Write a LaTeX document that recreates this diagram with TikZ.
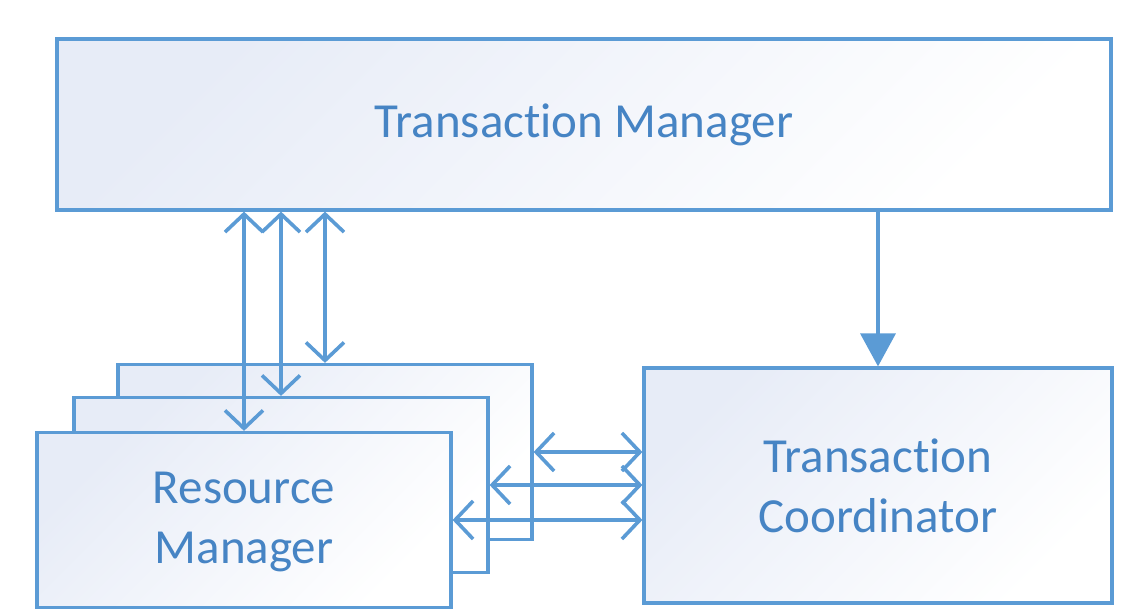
\documentclass[tikz,border=0pt]{standalone}
\usepackage{fontspec}
\setmainfont{Carlito}[Ligatures=NoCommon]
\usetikzlibrary{arrows.meta}
\definecolor{msblue}{RGB}{91,155,213}
\definecolor{mstext}{RGB}{70,132,196}
\definecolor{mspale}{RGB}{231,236,247}

\begin{document}
\begin{tikzpicture}[x=1pt,y=-1pt]
   \tikzstyle{every node}=[draw=msblue, line width=3.2pt, text=mstext, font=\fontsize{49}{60}\selectfont, align=center, inner sep=0pt, top color=mspale, bottom color=white, shading angle=45]
   \tikzstyle{rm box}=[minimum width=414pt, minimum height=175pt]
   \tikzstyle{link}=[draw=msblue, line width=3.6pt, {Straight Barb[length=18pt,width=38pt]}-{Straight Barb[length=18pt,width=38pt]}]
   \tikzstyle{feed}=[draw=msblue, line width=3.6pt, -{Triangle[length=33pt,width=35pt]}]

\useasboundingbox (0,0) rectangle (1138,615);

\node[minimum width=1054pt, minimum height=171pt] (tm) at (584,124.5) {Transaction Manager};
\node[minimum width=468pt, minimum height=235pt] (tc) at (878,485.5) {Transaction\\Coordinator};

\node[rm box] (rm3) at (325,452) {};
\node[rm box] (rm2) at (281,485) {};
\node[rm box, text depth=4pt] (rm1) at (244,520) {Resource\\Manager};

\draw[link] (rm1.north |- tm.south) -- (rm1.north);
\draw[link] (rm2.north |- tm.south) -- (rm2.north);
\draw[link] (rm3.north |- tm.south) -- (rm3.north);

\draw[link] (rm3.east) -- (rm3.east -| tc.west);
\draw[link] (rm2.east) -- (rm2.east -| tc.west);
\draw[link] (rm1.east) -- (rm1.east -| tc.west);

\draw[feed] (tc.north |- tm.south) -- (tc.north);

\end{tikzpicture}
\end{document}
